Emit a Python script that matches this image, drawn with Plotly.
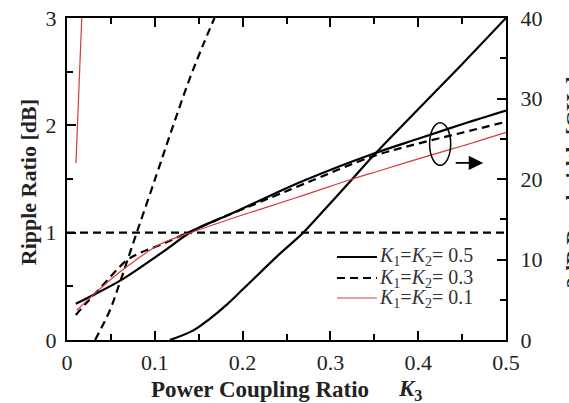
import plotly.graph_objects as go

# ---- data ----
# Ripple ratio [dB] (left axis)
rip_k3_05 = [0.117, 0.144, 0.163, 0.182, 0.200, 0.219, 0.238, 0.257, 0.269, 0.295, 0.325, 0.348, 0.400, 0.450, 0.500]
rip_db_05 = [0.0, 0.09, 0.20, 0.33, 0.47, 0.62, 0.77, 0.91, 1.0, 1.23, 1.50, 1.71, 2.15, 2.57, 3.0]
rip_k3_03 = [0.032, 0.049, 0.060, 0.079, 0.102, 0.121, 0.140, 0.155, 0.168]
rip_db_03 = [0.0, 0.28, 0.53, 0.99, 1.54, 2.0, 2.44, 2.75, 3.0]
rip_k3_01 = [0.0102, 0.0125, 0.0148, 0.0168]
rip_db_01 = [1.65, 2.1, 2.55, 3.0]

# 3dB bandwidth [GHz] (right axis)
bw_k3_05 = [0.010, 0.030, 0.064, 0.106, 0.144, 0.181, 0.219, 0.270, 0.348, 0.400, 0.450, 0.500]
bw_ghz_05 = [4.5, 5.6, 7.6, 10.7, 13.6, 15.4, 17.3, 19.8, 23.1, 25.0, 26.8, 28.5]
bw_k3_03 = [0.010, 0.022, 0.040, 0.068, 0.083, 0.106, 0.140, 0.181, 0.219, 0.270, 0.348, 0.400, 0.450, 0.500]
bw_ghz_03 = [3.1, 4.6, 6.7, 9.9, 10.8, 11.8, 13.45, 15.4, 17.1, 19.4, 22.8, 24.4, 25.75, 27.1]
bw_k3_01 = [0.011, 0.030, 0.049, 0.068, 0.106, 0.144, 0.181, 0.219, 0.270, 0.325, 0.355, 0.400, 0.450, 0.500]
bw_ghz_01 = [3.7, 5.6, 7.45, 9.1, 11.9, 13.45, 14.85, 16.2, 18.0, 20.0, 21.0, 22.5, 24.1, 25.8]

# 1 dB reference line
ref_k3 = [0.0, 0.5]
ref_db = [1.0, 1.0]

x_ticks = [0, 0.1, 0.2, 0.3, 0.4, 0.5]
x_ticktext = ["0", "0.1", "0.2", "0.3", "0.4", "0.5"]
y_ticks = [0, 1, 2, 3]
y2_ticks = [0, 10, 20, 30, 40]

names = ["<i>K</i><sub>1</sub>=<i>K</i><sub>2</sub>= 0.5",
         "<i>K</i><sub>1</sub>=<i>K</i><sub>2</sub>= 0.3",
         "<i>K</i><sub>1</sub>=<i>K</i><sub>2</sub>= 0.1"]

RED = "#d6393b"
SERIF = "Liberation Serif"
TXT = "#222"
solid = dict(color="black", width=2.2)
dashed = dict(color="black", width=2.2, dash="8px,5px")
red = dict(color=RED, width=1.2)
styles = [solid, dashed, red]

fig = go.Figure()
fig.add_trace(go.Scatter(x=ref_k3, y=ref_db, mode="lines", line=dashed, showlegend=False))

fig.add_trace(go.Scatter(x=rip_k3_05, y=rip_db_05, mode="lines", line=solid, name=names[0],
                         showlegend=False, line_shape="spline"))
fig.add_trace(go.Scatter(x=rip_k3_03, y=rip_db_03, mode="lines", line=dashed, name=names[1],
                         showlegend=False, line_shape="spline"))
fig.add_trace(go.Scatter(x=rip_k3_01, y=rip_db_01, mode="lines", line=red, name=names[2],
                         showlegend=False))

fig.add_trace(go.Scatter(x=bw_k3_05, y=bw_ghz_05, mode="lines", line=solid, yaxis="y2",
                         name=names[0], showlegend=False, line_shape="spline"))
fig.add_trace(go.Scatter(x=bw_k3_03, y=bw_ghz_03, mode="lines", line=dashed, yaxis="y2",
                         name=names[1], showlegend=False, line_shape="spline"))
fig.add_trace(go.Scatter(x=bw_k3_01, y=bw_ghz_01, mode="lines", line=red, yaxis="y2",
                         name=names[2], showlegend=False, line_shape="spline"))

axis_font = dict(family=SERIF, size=22, color=TXT)
common = dict(tickcolor="black", tickwidth=1.5, showline=True, linewidth=2, linecolor="black",
              showgrid=False, zeroline=False, tickfont=axis_font, automargin=False)
fig.update_layout(
    width=569, height=403,
    margin=dict(l=67, r=63, t=18, b=63),
    paper_bgcolor="white", plot_bgcolor="white",
    font=dict(family=SERIF, size=18, color=TXT),
    xaxis=dict(range=[0, 0.5], tickvals=x_ticks, ticktext=x_ticktext,
               ticks="inside", ticklen=9, mirror="ticks", ticklabelstandoff=2,
               minor=dict(dtick=0.05, ticks="inside", ticklen=6, tickwidth=1.5, tickcolor="black"),
               **common),
    yaxis=dict(range=[0, 3], tickvals=y_ticks, ticks="inside", ticklen=9, ticklabelstandoff=4,
               minor=dict(dtick=0.5, ticks="inside", ticklen=6, tickwidth=1.5, tickcolor="black"),
               **common),
    yaxis2=dict(range=[0, 40], tickvals=y2_ticks, overlaying="y", side="right",
                ticks="inside", ticklen=9, ticklabelstandoff=8,
                minor=dict(dtick=5, ticks="inside", ticklen=6, tickwidth=1.5, tickcolor="black"),
                **common),
    showlegend=False,
)

# manual legend (line samples + labels)
leg_y = [0.2578, 0.1925, 0.1304]
for nm, st, yy in zip(names, styles, leg_y):
    fig.add_shape(type="line", xref="paper", yref="paper", x0=0.615, x1=0.706, y0=yy, y1=yy,
                  line=st)
    fig.add_annotation(text=nm, xref="paper", yref="paper", x=0.708, y=yy,
                       xanchor="left", yanchor="middle", showarrow=False, borderpad=0,
                       font=dict(family=SERIF, size=20, color="#333"))

# ellipse (rotation mark) and arrow pointing to right axis
fig.add_shape(type="circle", xref="x", yref="y2", x0=0.413, x1=0.437, y0=21.7, y1=27.0,
              line=dict(color="black", width=1.5))
fig.add_annotation(x=0.474, y=22.0, ax=0.441, ay=22.0, xref="x", yref="y2",
                   axref="x", ayref="y2", showarrow=True, arrowhead=2, arrowsize=1.6,
                   arrowwidth=1.8, arrowcolor="black", text="")

title_font = dict(family=SERIF, size=23, color=TXT)
# axis titles
fig.add_annotation(text="<b>Power Coupling Ratio</b>", xref="paper", yref="paper",
                   x=0.44, y=-0.155, xanchor="center", yanchor="middle", showarrow=False,
                   font=title_font)
fig.add_annotation(text="<b><i>K</i><sub>3</sub></b>", xref="paper", yref="paper",
                   x=0.781, y=-0.155, xanchor="center", yanchor="middle", showarrow=False,
                   font=title_font)
fig.add_annotation(text="<b>Ripple Ratio [dB]</b>", xref="paper", yref="paper",
                   x=-0.0888, y=0.49, xanchor="center", yanchor="middle", textangle=-90,
                   showarrow=False, font=dict(family=SERIF, size=22, color=TXT))
# right axis title (partly outside the figure, as in the reference)
fig.add_annotation(text="<b>3dB Bandwidth [GHz]</b>", xref="paper", yref="paper",
                   x=1.152, y=0.49, xanchor="center", yanchor="middle", textangle=-90,
                   showarrow=False, font=dict(family=SERIF, size=22, color=TXT))

fig.write_html("out.html", config={"displayModeBar": False},
               post_script="document.body.style.margin='0';document.body.style.overflow='hidden';")
